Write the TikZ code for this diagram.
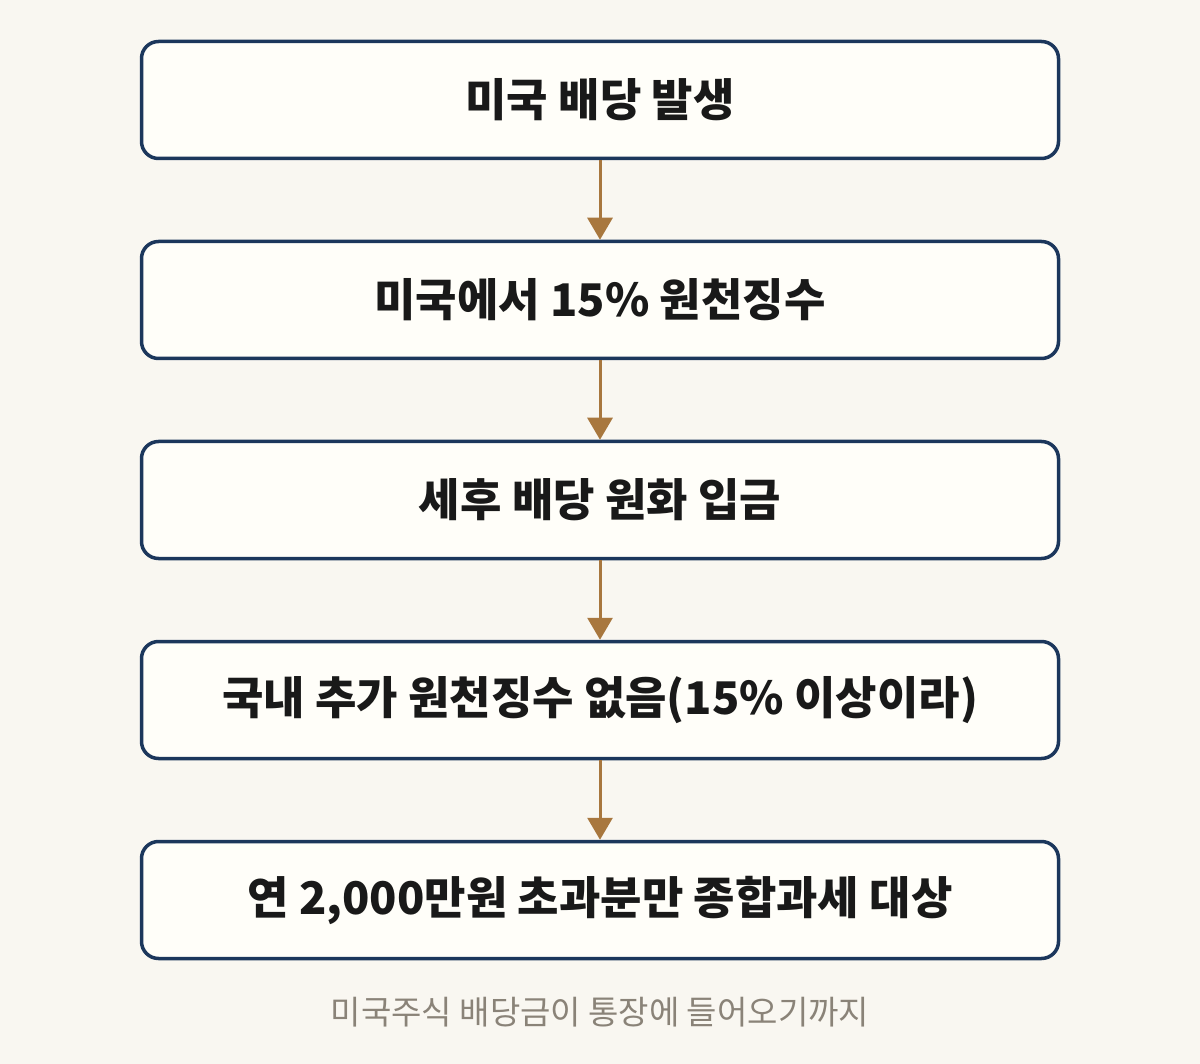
\documentclass[tikz,border=0pt]{standalone}
\usepackage{fontspec}
\usepackage{tikz}
\usetikzlibrary{arrows.meta}
\newfontfamily\kr{Noto Sans CJK KR}
\definecolor{pagebg}{HTML}{F9F7F1}
\definecolor{boxbg}{HTML}{FFFEF9}
\definecolor{boxline}{HTML}{1C375C}
\definecolor{flowarrow}{HTML}{A8773E}
\definecolor{notegray}{HTML}{8A8378}

\begin{document}
\begin{tikzpicture}[x=1pt, y=-1pt,
	stepbox/.style={draw=boxline, fill=boxbg, line width=3.5pt, rounded corners=17pt,
		minimum width=917pt, minimum height=117pt, inner sep=0pt,
		font=\kr\bfseries\fontsize{45}{52}\selectfont, text=black!90},
	flow/.style={draw=flowarrow, line width=3pt, -{Triangle[length=22pt,width=25pt]}}]
	\fill [pagebg] (0, 0) rectangle (1200, 1064);
	\useasboundingbox (0, 0) rectangle (1200, 1064);
	\node [stepbox] (s1) at (600, 100) {미국 배당 발생};
	\node [stepbox] (s2) at (600, 300) {미국에서 15\% 원천징수};
	\node [stepbox] (s3) at (600, 500) {세후 배당 원화 입금};
	\node [stepbox] (s4) at (600, 700) {국내 추가 원천징수 없음(15\% 이상이라)};
	\node [stepbox] (s5) at (600, 900) {연 2,000만원 초과분만 종합과세 대상};
	\draw [flow] (s1) -- (s2);
	\draw [flow] (s2) -- (s3);
	\draw [flow] (s3) -- (s4);
	\draw [flow] (s4) -- (s5);
	\node [font=\kr\fontsize{33}{40}\selectfont, text=notegray] (note) at (600, 1012) {미국주식 배당금이 통장에 들어오기까지};
\end{tikzpicture}
\end{document}
